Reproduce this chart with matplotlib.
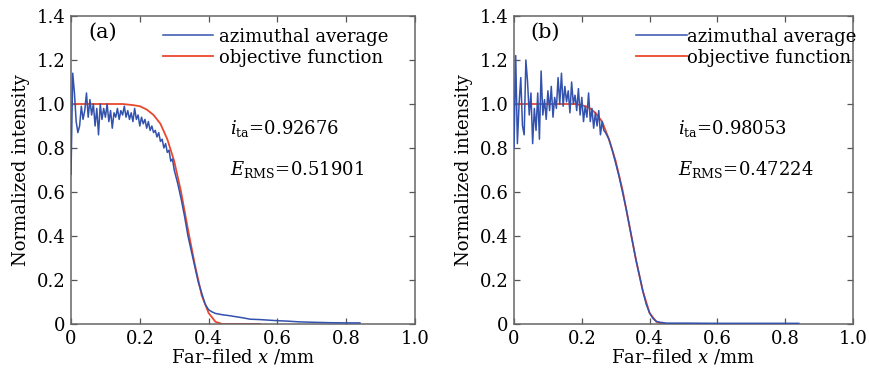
import matplotlib
matplotlib.use("Agg")
import matplotlib.pyplot as plt
from matplotlib.ticker import FuncFormatter, MultipleLocator

plt.rcParams['font.family'] = 'serif'
plt.rcParams['font.serif'] = ['DejaVu Serif']
plt.rcParams['mathtext.fontset'] = 'dejavuserif'

# ---------------- data: panel (a) ----------------
a_blue_x = [0.000, 0.005, 0.010, 0.015, 0.020, 0.025, 0.030, 0.035, 0.040, 0.045,
            0.050, 0.055, 0.060, 0.065, 0.070, 0.075, 0.080, 0.085, 0.090, 0.095,
            0.100, 0.105, 0.110, 0.115, 0.120, 0.125, 0.130, 0.135, 0.140, 0.145,
            0.150, 0.155, 0.160, 0.165, 0.170, 0.175, 0.180, 0.185, 0.190, 0.195,
            0.200, 0.205, 0.210, 0.215, 0.220, 0.225, 0.230, 0.235, 0.240, 0.245,
            0.250, 0.255, 0.260, 0.265, 0.270, 0.275, 0.280, 0.285, 0.290, 0.295,
            0.300, 0.310, 0.320, 0.330, 0.340, 0.350, 0.360, 0.370, 0.380, 0.390,
            0.400, 0.410, 0.420, 0.440, 0.460, 0.480, 0.500, 0.520, 0.550, 0.580,
            0.600, 0.630, 0.660, 0.700, 0.750, 0.800, 0.840]
a_blue_y = [0.68, 1.14, 1.05, 0.92, 0.87, 0.90, 0.99, 0.93, 0.97, 1.05,
            0.94, 1.02, 0.95, 1.00, 0.90, 0.98, 0.86, 1.00, 0.93, 0.98,
            0.94, 1.00, 0.92, 0.97, 0.89, 0.96, 0.94, 0.98, 0.93, 0.97,
            0.95, 0.99, 0.94, 0.97, 0.93, 0.96, 0.92, 0.98, 0.93, 0.95,
            0.90, 0.94, 0.91, 0.93, 0.89, 0.92, 0.88, 0.90, 0.87, 0.88,
            0.85, 0.87, 0.83, 0.84, 0.80, 0.82, 0.78, 0.79, 0.74, 0.75,
            0.70, 0.64, 0.57, 0.49, 0.40, 0.33, 0.26, 0.19, 0.14, 0.09,
            0.065, 0.055, 0.048, 0.042, 0.038, 0.033, 0.028, 0.022, 0.020, 0.017,
            0.015, 0.013, 0.010, 0.008, 0.006, 0.005, 0.005]
a_red_x = [0.00, 0.05, 0.10, 0.15, 0.18, 0.20, 0.22, 0.24, 0.26, 0.28, 0.30,
           0.32, 0.34, 0.36, 0.38, 0.40, 0.42, 0.44, 0.55]
a_red_y = [1.00, 1.00, 1.00, 1.00, 0.995, 0.99, 0.975, 0.95, 0.91, 0.84, 0.74,
           0.60, 0.43, 0.27, 0.13, 0.05, 0.01, 0.00, 0.00]

# ---------------- data: panel (b) ----------------
b_blue_x = [0.000, 0.005, 0.010, 0.015, 0.020, 0.025, 0.030, 0.035, 0.040, 0.045,
            0.050, 0.055, 0.060, 0.065, 0.070, 0.075, 0.080, 0.085, 0.090, 0.095,
            0.100, 0.105, 0.110, 0.115, 0.120, 0.125, 0.130, 0.135, 0.140, 0.145,
            0.150, 0.155, 0.160, 0.165, 0.170, 0.175, 0.180, 0.185, 0.190, 0.195,
            0.200, 0.205, 0.210, 0.215, 0.220, 0.225, 0.230, 0.235, 0.240, 0.245,
            0.250, 0.255, 0.260, 0.265, 0.270, 0.280, 0.290, 0.300, 0.310, 0.320,
            0.330, 0.340, 0.350, 0.360, 0.370, 0.380, 0.390, 0.400, 0.410, 0.420,
            0.430, 0.450, 0.500, 0.600, 0.700, 0.840]
b_blue_y = [0.80, 1.22, 0.82, 1.00, 1.12, 0.90, 0.86, 1.20, 1.10, 0.95,
            1.05, 0.82, 0.98, 0.88, 1.05, 0.84, 1.15, 0.95, 1.02, 0.93,
            1.06, 0.97, 1.08, 0.94, 1.03, 0.98, 1.12, 1.00, 1.14, 0.99,
            1.08, 1.01, 1.06, 0.96, 1.10, 1.00, 1.04, 0.97, 1.07, 0.95,
            1.03, 0.92, 0.99, 0.94, 1.05, 0.92, 0.98, 0.89, 0.96, 0.90,
            0.97, 0.86, 0.92, 0.88, 0.87, 0.84, 0.79, 0.73, 0.67, 0.60,
            0.53, 0.45, 0.37, 0.29, 0.22, 0.15, 0.09, 0.05, 0.025, 0.012,
            0.008, 0.004, 0.004, 0.003, 0.003, 0.003]
b_red_x = [0.00, 0.10, 0.18, 0.20, 0.22, 0.24, 0.26, 0.28, 0.30, 0.32, 0.34,
           0.36, 0.38, 0.40, 0.42, 0.44, 0.55]
b_red_y = [1.00, 1.00, 1.00, 0.995, 0.985, 0.96, 0.92, 0.84, 0.74, 0.61, 0.45,
           0.29, 0.15, 0.05, 0.01, 0.00, 0.00]

labels = ['azimuthal average', 'objective function']
panel_tags = ['(a)', '(b)']
i_ta = ['0.92676', '0.98053']
e_rms = ['0.51901', '0.47224']

BLUE = '#3352ad'
RED = '#e8482c'
FS = 13

fig = plt.figure(figsize=(8.7, 3.74), dpi=100)
ax_a = fig.add_axes([71/870, 1-324/374, 344/870, 308/374])
ax_b = fig.add_axes([514/870, 1-324/374, 339/870, 308/374])

fmt = FuncFormatter(lambda v, p: '0' if abs(v) < 1e-9 else f'{v:.1f}')

panels = [
    (ax_a, a_blue_x, a_blue_y, a_red_x, a_red_y, 0.267, 2.8, 0.3, 0.462, 0.050),
    (ax_b, b_blue_x, b_blue_y, b_red_x, b_red_y, 0.360, 2.8, 0.05, 0.484, 0.047),
]
for k, (ax, bx, by, rx, ry, lx, hl, htp, tx, px) in enumerate(panels):
    ax.plot(bx, by, color=BLUE, lw=1.1, label=labels[0], zorder=3)
    ax.plot(rx, ry, color=RED, lw=1.3, label=labels[1], zorder=2)
    ax.set_xlim(0, 1.0)
    ax.set_ylim(0, 1.4)
    ax.xaxis.set_major_locator(MultipleLocator(0.2))
    ax.yaxis.set_major_locator(MultipleLocator(0.2))
    ax.xaxis.set_major_formatter(fmt)
    ax.yaxis.set_major_formatter(fmt)
    ax.tick_params(direction='in', top=True, right=True, length=4, width=0.9,
                   color='#555555', labelsize=FS, pad=4)
    for s in ax.spines.values():
        s.set_color('#666666')
        s.set_linewidth(1.1)
    ax.set_xlabel('Far\u2013filed $x$ /mm', fontsize=FS, labelpad=0)
    ax.set_ylabel('Normalized intensity', fontsize=FS, labelpad=5)
    ax.legend(loc='upper left', bbox_to_anchor=(lx, 0.962), frameon=False,
              fontsize=FS, handlelength=hl, handletextpad=htp,
              labelspacing=0.16, borderaxespad=0, borderpad=0)
    ax.text(px, 0.978, panel_tags[k], transform=ax.transAxes, fontsize=15,
            ha='left', va='top')
    ax.text(tx, 0.89, r'$i_{\mathrm{ta}}$=' + i_ta[k], fontsize=FS,
            ha='left', va='center')
    ax.text(tx, 0.70, r'$E_{\mathrm{RMS}}$=' + e_rms[k], fontsize=FS,
            ha='left', va='center')

fig.savefig('out.png', dpi=100)
